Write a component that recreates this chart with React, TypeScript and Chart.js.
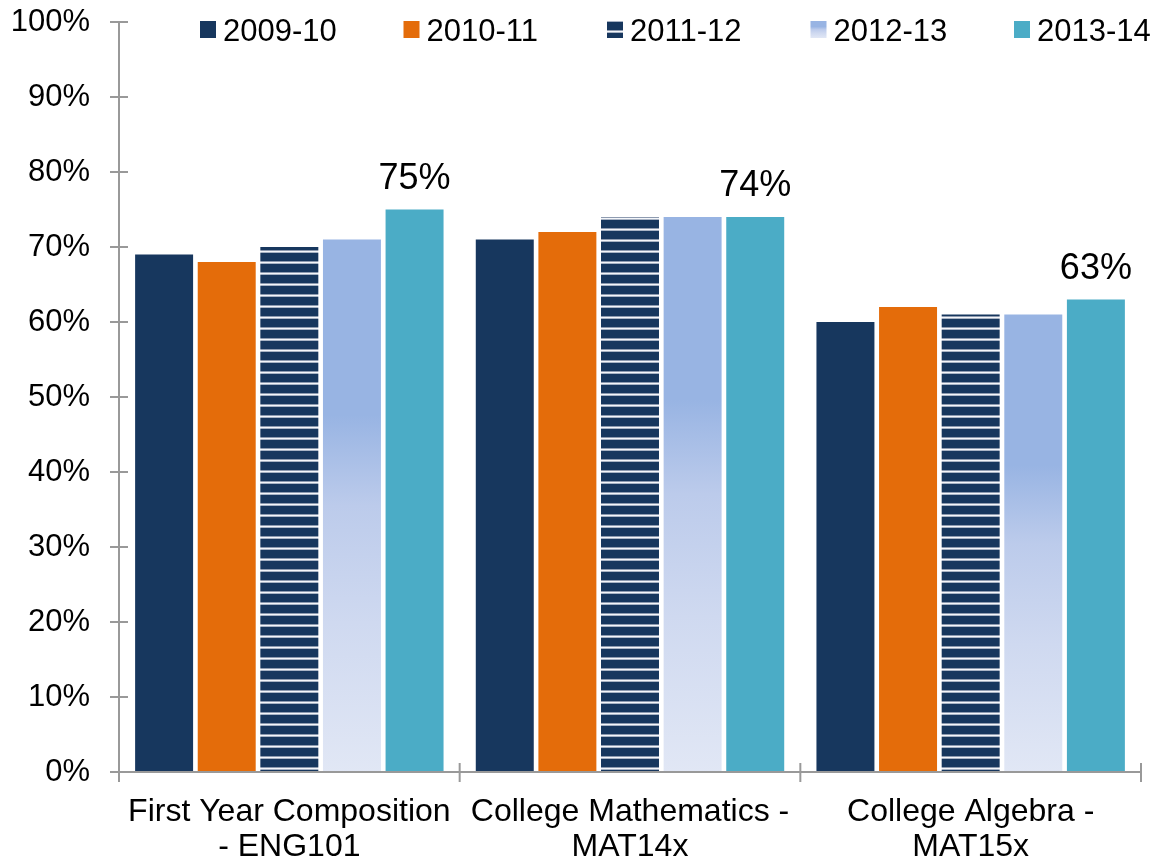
import React, { useEffect, useRef } from "react";
import { Chart, registerables } from "chart.js";

Chart.register(...registerables);

const categories: string[][] = [
  ["First Year Composition", "- ENG101"],
  ["College Mathematics -", "MAT14x"],
  ["College Algebra -", "MAT15x"],
];
const seriesLabels = ["2009-10", "2010-11", "2011-12", "2012-13", "2013-14"];
const s2009 = [69, 71, 60];
const s2010 = [68, 72, 62];
const s2011 = [70, 74, 61];
const s2012 = [71, 74, 61];
const s2013 = [75, 74, 63];
const yTicks = [0, 10, 20, 30, 40, 50, 60, 70, 80, 90, 100];

const FONT = "'Liberation Sans', Arial, sans-serif";
const NAVY = "#17375E";
const ORANGE = "#E46C0A";
const TEAL = "#4BACC6";
const AXIS = "#999999";

function makeStripe(ctx: CanvasRenderingContext2D) {
  const c = document.createElement("canvas");
  c.width = 4;
  c.height = 11;
  const g = c.getContext("2d")!;
  g.fillStyle = NAVY;
  g.fillRect(0, 0, 4, 11);
  g.fillStyle = "#8E9BB0";
  g.fillRect(0, 8, 4, 1);
  g.fillStyle = "#F4F6FA";
  g.fillRect(0, 9, 4, 1);
  g.fillStyle = "#A8B3C4";
  g.fillRect(0, 10, 4, 1);
  return ctx.createPattern(c, "repeat")!;
}

function blueGradient(ctx: CanvasRenderingContext2D, top: number, bottom: number) {
  const g = ctx.createLinearGradient(0, top, 0, bottom);
  g.addColorStop(0, "#98B4E3");
  g.addColorStop(0.33, "#98B4E3");
  g.addColorStop(0.5, "#BCCBEB");
  g.addColorStop(0.72, "#CFD9F0");
  g.addColorStop(1, "#E1E7F5");
  return g;
}

const axesPlugin = {
  id: "customAxes",
  afterDatasetsDraw(chart: any) {
    const { ctx, chartArea, scales } = chart;
    const y = scales.y;
    const x = scales.x;
    ctx.save();
    ctx.strokeStyle = AXIS;
    ctx.lineWidth = 2;
    ctx.beginPath();
    ctx.moveTo(chartArea.left, y.getPixelForValue(100));
    ctx.lineTo(chartArea.left, y.getPixelForValue(0));
    ctx.stroke();
    yTicks.forEach((v) => {
      const py = y.getPixelForValue(v);
      ctx.beginPath();
      ctx.moveTo(chartArea.left - 9, py);
      ctx.lineTo(chartArea.left + 9, py);
      ctx.stroke();
    });
    const base = y.getPixelForValue(0);
    ctx.beginPath();
    ctx.moveTo(chartArea.left, base);
    ctx.lineTo(chartArea.right, base);
    ctx.stroke();
    const n = categories.length;
    for (let i = 0; i <= n; i++) {
      const px = i === 0 ? chartArea.left : i === n ? chartArea.right :
        (x.getPixelForValue(i - 1) + x.getPixelForValue(i)) / 2;
      ctx.beginPath();
      ctx.moveTo(px, base - 9);
      ctx.lineTo(px, base + 10);
      ctx.stroke();
    }
    ctx.restore();
  },
};

const labelPlugin = {
  id: "lastLabels",
  afterDatasetsDraw(chart: any) {
    const { ctx } = chart;
    const idx = chart.data.datasets.length - 1;
    const meta = chart.getDatasetMeta(idx);
    ctx.save();
    ctx.font = `36px ${FONT}`;
    ctx.fillStyle = "#000";
    ctx.textAlign = "center";
    ctx.textBaseline = "alphabetic";
    meta.data.forEach((el: any, i: number) => {
      const v = chart.data.datasets[idx].data[i];
      ctx.fillText(`${v}%`, el.x, el.y - 21);
    });
    ctx.restore();
  },
};

const legendPlugin = {
  id: "customLegend",
  afterDraw(chart: any) {
    const { ctx } = chart;
    const startX = 200;
    const step = 203.5;
    const boxTop = 21;
    const boxW = 16;
    const boxH = 17;
    ctx.save();
    ctx.font = `31px ${FONT}`;
    ctx.textBaseline = "alphabetic";
    ctx.textAlign = "left";
    chart.data.datasets.forEach((ds: any, i: number) => {
      const bx = startX + i * step;
      let fill: any;
      if (i === 2) fill = makeStripe(ctx);
      else if (i === 3) fill = blueGradient(ctx, boxTop, boxTop + boxH);
      else fill = ds.legendColor;
      ctx.fillStyle = fill;
      ctx.fillRect(bx, boxTop, boxW, boxH);
      ctx.fillStyle = "#000";
      ctx.fillText(ds.label, bx + 23, 41);
    });
    ctx.restore();
  },
};

export default function App() {
  const ref = useRef<HTMLCanvasElement | null>(null);
  useEffect(() => {
    if (!ref.current) return;
    const c2d = ref.current.getContext("2d")!;
    const stripe = makeStripe(c2d);
    const gradFill = (ctx: any) => {
      const chart = ctx.chart;
      const ys = chart.scales?.y;
      if (ctx.type !== "data" || !ys) return "#98B4E3";
      const v = ctx.raw as number;
      const top = ys.getPixelForValue(v);
      const bottom = ys.getPixelForValue(0);
      if (!isFinite(top) || !isFinite(bottom) || bottom <= top) return "#98B4E3";
      return blueGradient(chart.ctx, top, bottom);
    };
    const common = {
      categoryPercentage: 0.919,
      barPercentage: 0.926,
      borderWidth: 0,
    };
    const chart = new Chart(ref.current, {
      type: "bar",
      data: {
        labels: categories,
        datasets: [
          { label: seriesLabels[0], data: s2009, backgroundColor: NAVY, legendColor: NAVY, ...common },
          { label: seriesLabels[1], data: s2010, backgroundColor: ORANGE, legendColor: ORANGE, ...common },
          { label: seriesLabels[2], data: s2011, backgroundColor: stripe, legendColor: NAVY, ...common },
          { label: seriesLabels[3], data: s2012, backgroundColor: gradFill, legendColor: "#98B4E3", ...common },
          { label: seriesLabels[4], data: s2013, backgroundColor: TEAL, legendColor: TEAL, ...common },
        ] as any,
      },
      options: {
        animation: false,
        responsive: true,
        maintainAspectRatio: false,
        layout: { padding: { left: 0, right: 16, top: 22, bottom: 0 } },
        plugins: {
          legend: { display: false },
          tooltip: { enabled: false },
        },
        scales: {
          x: {
            afterFit: (scale: any) => {
              scale.height = 90;
              scale.paddingLeft = 0;
              scale.paddingRight = 0;
            },
            grid: { display: false },
            border: { display: false },
            ticks: {
              color: "#000",
              padding: 15,
              maxRotation: 0,
              autoSkip: false,
              font: { family: FONT, size: 32, lineHeight: 1.094 },
            },
          },
          y: {
            min: 0,
            max: 100,
            afterFit: (scale: any) => {
              scale.width = 119;
              scale.paddingTop = 0;
              scale.paddingBottom = 0;
            },
            grid: { display: false },
            border: { display: false },
            ticks: {
              stepSize: 10,
              padding: 21,
              color: "#000",
              font: { family: FONT, size: 31 },
              callback: (v: any) => `${v}%`,
            },
          },
        },
      },
      plugins: [axesPlugin, labelPlugin, legendPlugin],
    });
    return () => chart.destroy();
  }, []);
  return (
    <div style={{ position: "absolute", left: 0, top: 0, width: 1157, height: 862, background: "#fff" }}>
      <canvas ref={ref} />
    </div>
  );
}
